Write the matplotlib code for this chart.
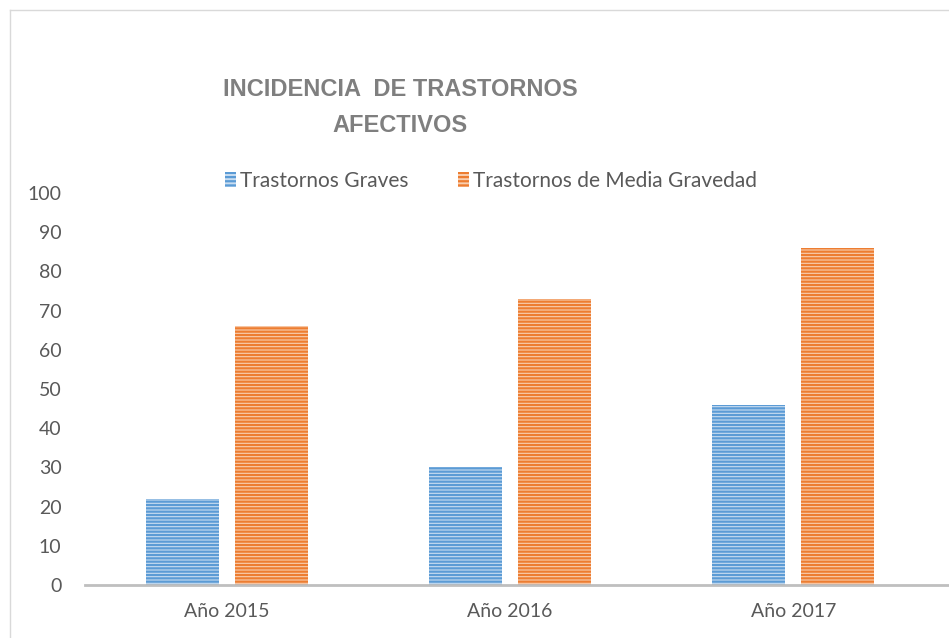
import matplotlib
matplotlib.use("Agg")
import matplotlib.pyplot as plt
import numpy as np
from matplotlib.lines import Line2D
from matplotlib.patches import Patch

# data
years = ["Año 2015", "Año 2016", "Año 2017"]
graves = [22, 30, 46]
media = [66, 73, 86]
series_names = ["Trastornos Graves", "Trastornos de Media Gravedad"]

blue, blue_bg = "#5b9bd5", "#c9ddf1"
orange, orange_bg = "#ed7d31", "#f9cfb0"
txt = "#595959"

plt.rcParams['font.family'] = ['Lato', 'DejaVu Sans']
plt.rcParams['hatch.linewidth'] = 1.6

W, H = 949, 638
fig = plt.figure(figsize=(W / 100, H / 100), dpi=100)

# light border like the office chart frame
fig.add_artist(Line2D([10 / W, 1], [1 - 10 / H, 1 - 10 / H], color="#d9d9d9", lw=1))
fig.add_artist(Line2D([10 / W, 10 / W], [0, 1 - 10 / H], color="#d9d9d9", lw=1))

ax = fig.add_axes([85 / W, 1 - 585 / H, (949 - 85) / W, (585 - 193) / H])

x = np.arange(len(years))
bw = 0.257
off = 0.157
ax.bar(x - off, graves, bw, color=blue_bg, edgecolor=blue, linewidth=0, hatch="-----")
ax.bar(x + off, media, bw, color=orange_bg, edgecolor=orange, linewidth=0, hatch="-----")

ax.set_xlim(-0.5, 2.55)
ax.set_ylim(0, 100)
ax.set_yticks(range(0, 101, 10))
ax.set_xticks(x)
ax.set_xticklabels(years)
ax.tick_params(axis="both", length=0, labelsize=14, colors=txt)
ax.tick_params(axis="x", pad=13)
ax.tick_params(axis="y", pad=17)
for s in ["top", "right", "left"]:
    ax.spines[s].set_visible(False)
ax.spines["bottom"].set_color("#bfbfbf")
ax.spines["bottom"].set_linewidth(2)

fig.text(400 / W, 1 - 89 / H, "INCIDENCIA  DE TRASTORNOS", ha="center", va="center",
         fontsize=17, fontweight="bold", color="#7f7f7f", family="Liberation Sans")
fig.text(400 / W, 1 - 125 / H, "AFECTIVOS", ha="center", va="center",
         fontsize=17, fontweight="bold", color="#7f7f7f", family="Liberation Sans")

handles = [Patch(facecolor=blue_bg, edgecolor=blue, linewidth=0, hatch="----"),
           Patch(facecolor=orange_bg, edgecolor=orange, linewidth=0, hatch="----")]
fig.legend(handles, series_names, loc="center", bbox_to_anchor=(491 / W, 1 - 181 / H),
           ncol=2, frameon=False, fontsize=15, labelcolor=txt, handlelength=0.5,
           handleheight=0.75, handletextpad=0.2, columnspacing=2.4)

fig.savefig("out.png", dpi=100, facecolor="white")
